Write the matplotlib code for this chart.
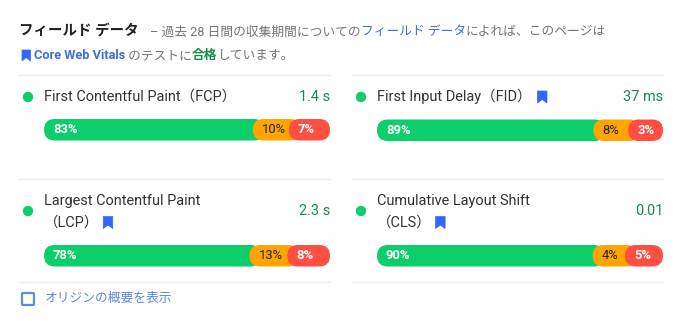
import matplotlib
matplotlib.use('Agg')
import matplotlib.pyplot as plt
from matplotlib.patches import Circle, FancyBboxPatch, Polygon

# 表示するデータ
metric_names = ['First Contentful Paint（FCP）', 'First Input Delay（FID）',
                'Largest Contentful Paint', 'Cumulative Layout Shift']
metric_second_line = ['', '', '（LCP）', '（CLS）']
metric_values = ['1.4 s', '37 ms', '2.3 s', '0.01']
fast = [83, 89, 78, 90]
average = [10, 8, 13, 4]
slow = [7, 3, 8, 5]
has_bookmark = [False, True, True, True]

GREEN = '#0cce6b'
ORANGE = '#ffa400'
RED = '#ff4e42'
BLUE = '#3f6fd8'
ICON_BLUE = '#3366ff'
DARK_GREEN = '#178a4c'
GRAY = '#757575'
DARK = '#333333'
LINE = '#eeeeee'
FONTS = ['Roboto', 'Noto Sans CJK JP', 'DejaVu Sans']
PX = 0.72  # 1px -> pt (dpi 100)

plt.rcParams['font.family'] = FONTS

fig = plt.figure(figsize=(6.8, 3.25), dpi=100)
ax = fig.add_axes([0, 0, 1, 1])
ax.set_xlim(0, 680)
ax.set_ylim(325, 0)
ax.axis('off')


def run(x, y, parts, size=12.5):
    # 色違いの文字を横に並べる
    renderer = fig.canvas.get_renderer()
    for s, color, weight in parts:
        t = ax.text(x, y, s, color=color, fontsize=size * PX, fontweight=weight, va='center', ha='left')
        x = ax.transData.inverted().transform(t.get_window_extent(renderer).corners()[2])[0]
    return x


def bookmark(x, y, w=9.5, h=12):
    pts = [(x, y), (x + w, y), (x + w, y + h), (x + w / 2, y + h - 3.5), (x, y + h)]
    ax.add_patch(Polygon(pts, closed=True, facecolor=ICON_BLUE, edgecolor=ICON_BLUE, lw=0.5, joinstyle='round'))


def segment(x0, x1, y0, y1, color):
    r = (y1 - y0) / 2
    ax.add_patch(FancyBboxPatch((x0, y0), x1 - x0, y1 - y0, boxstyle=f'round,pad=0,rounding_size={r}',
                                facecolor=color, edgecolor='none', mutation_aspect=1))


def stacked_bar(left, right, y0, y1, good, mid, bad):
    # 文字が入るように最小幅をとる（値に比例しない）
    red_w = 30 + 1.6 * bad
    orange_w = 30 + 0.6 * mid
    red_x = right - red_w
    orange_x = red_x - orange_w
    segment(left, orange_x + 12, y0, y1, GREEN)
    segment(orange_x, red_x + 12, y0, y1, ORANGE)
    segment(red_x, right, y0, y1, RED)
    labels = [(left, good, 'white', 'bold'), (orange_x, mid, '#222222', 'normal'), (red_x, bad, 'white', 'bold')]
    for x, v, c, w in labels:
        ax.text(x + 9, (y0 + y1) / 2, f'{v}%', color=c, fontsize=13 * PX, fontweight=w,
                va='center', ha='left')


# ヘッダー
run(19, 31, [('フィールド データ', '#222222', 'bold')], size=14.5)
run(150, 32, [('– 過去 28 日間の収集期間についての', GRAY, 'normal'),
              ('フィールド データ', BLUE, 'normal'),
              ('によれば、このページは', GRAY, 'normal')], size=12.75)
bookmark(22, 50, w=8.5, h=11)
run(34, 55.5, [('Core Web Vitals', BLUE, 'bold'), (' のテストに', GRAY, 'normal'),
               ('合格', DARK_GREEN, 'bold'), ('しています。', GRAY, 'normal')], size=12.7)

# 区切り線
for y in [74.5, 178.5, 281.5]:
    ax.plot([19, 330], [y, y], color=LINE, lw=1)
    ax.plot([352, 663], [y, y], color=LINE, lw=1)

# 指標カード
for i in range(4):
    col = i % 2
    off = col * 333
    two_line = metric_second_line[i] != ''
    top = 0 if i < 2 else 1
    dot_y = 97 if not two_line else 211
    ax.add_patch(Circle((28 + off, dot_y), 5.2, color=GREEN, lw=0))

    if two_line:
        run(44 + off, 200.5, [(metric_names[i], DARK, 'normal')], size=14.5)
        end = run(44 + off, 222.5, [(metric_second_line[i], DARK, 'normal')], size=14.5)
        bookmark(end + 4, 216.5)
    else:
        end = run(44 + off, 96.5, [(metric_names[i], DARK, 'normal')], size=14.5)
        if has_bookmark[i]:
            bookmark(end + 6, 91)

    ax.text(330 + off, dot_y, metric_values[i], color=DARK_GREEN, fontsize=14.5 * PX, fontweight='normal',
            va='center', ha='right')

    y0 = 245 if top else 119 + col * 0.5
    stacked_bar(44 + off, 330 + off, y0, y0 + 21.5, fast[i], average[i], slow[i])

# チェックボックス
ax.add_patch(FancyBboxPatch((22, 293), 12, 12, boxstyle='round,pad=0,rounding_size=1.2',
                            facecolor='white', edgecolor='#5f8ae0', lw=1.6))
run(45, 298.5, [('オリジンの概要を表示', '#5a86dc', 'normal')], size=12.7)

fig.savefig('out.png', dpi=100, facecolor='white')
